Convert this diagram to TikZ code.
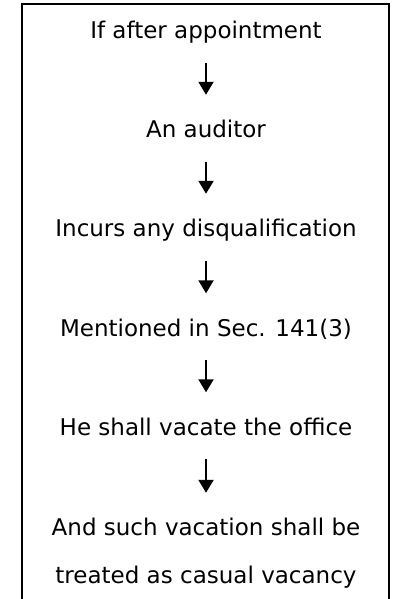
\documentclass[tikz,border=0pt]{standalone}
\usepackage{fontspec}
\setmainfont{DejaVu Sans}
\usetikzlibrary{arrows.meta}
\begin{document}
\begin{tikzpicture}[x=1pt,y=-1pt,
  steptext/.style={anchor=base,inner sep=0pt,font=\fontsize{23}{27}\selectfont,
    text height=17pt,text depth=5pt},
  flow/.style={line width=2pt,-{Triangle[length=13pt,width=15pt]},
    shorten <=19pt,shorten >=25.5pt}]
  \useasboundingbox (0,0) rectangle (394,599);
  % open-bottomed frame
  \draw[line width=1.5pt] (22,599) -- (22,4) -- (389,4) -- (389,599);
  % steps
  \node[steptext] (t1) at (206,38.5) {If after appointment};
  \node[steptext] (t2) at (206,137.5) {An auditor};
  \node[steptext] (t3) at (206,236.5) {Incurs any disqualification};
  \node[steptext] (t4) at (206,336) {Mentioned in Sec. 141(3)};
  \node[steptext] (t5) at (206,435) {He shall vacate the office};
  \node[steptext] (t6) at (206,535.5) {And such vacation shall be};
  \node[steptext] (t7) at (206,583) {treated as casual vacancy};
  % arrows between steps
  \draw[flow] (t1.south) -- (t2.north);
  \draw[flow] (t2.south) -- (t3.north);
  \draw[flow] (t3.south) -- (t4.north);
  \draw[flow] (t4.south) -- (t5.north);
  \draw[flow] (t5.south) -- (t6.north);
\end{tikzpicture}
\end{document}
